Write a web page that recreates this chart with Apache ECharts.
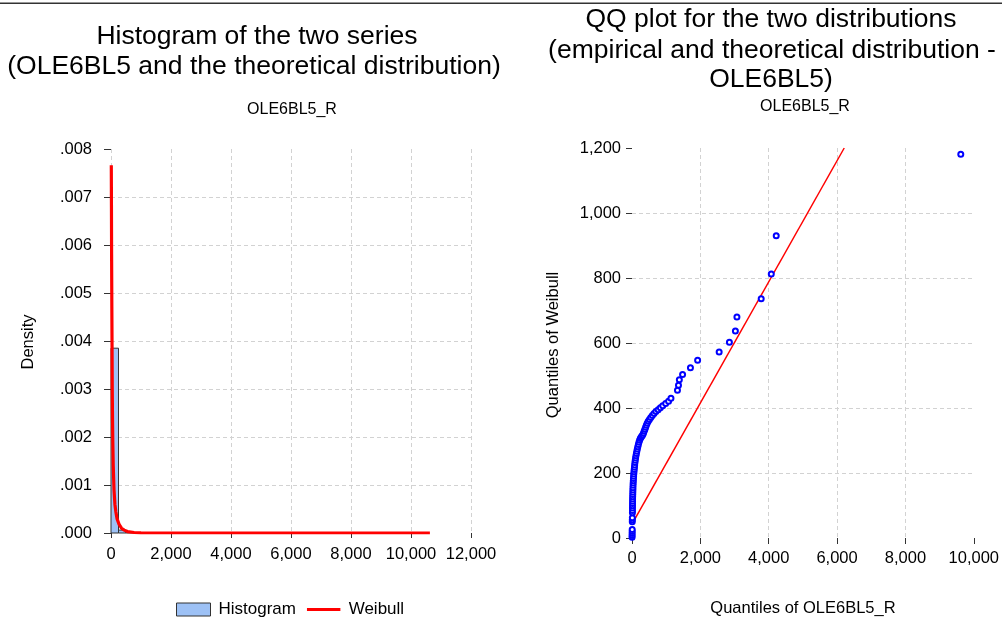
<!DOCTYPE html>
<html><head><meta charset="utf-8">
<script src="https://cdn.jsdelivr.net/npm/echarts@6/dist/echarts.min.js"></script>
<style>html,body{margin:0;padding:0;background:#fff}#c{width:1002px;height:617px}</style>
</head><body><div id="c"></div>
<script>
// ---------- data ----------
const histBinStart = [0, 250, 500, 750];
const histBinWidth = 250;
const histDensity = [0.00385, 0.00006, 0.00002, 0.00001];
const weibullX = [10, 15, 20, 28, 35, 42, 50, 60, 75, 100, 130, 160, 200, 270, 350, 440, 550, 770, 1000, 2000, 5000, 10630];
const weibullY = [0.00766, 0.0068, 0.0058, 0.0047, 0.0039, 0.0030, 0.0024, 0.0019, 0.0014, 0.0009, 0.0006, 0.00045, 0.0003, 0.00018, 0.0001, 0.00006, 0.00003, 0.00001, 0.000004, 0.0000005, 0, 0];
const qqEmpirical = [2,3,4,5,6,8,9,10,12,13,14,15,16,17,18,20,22,24,26,28,31,34,38,42,47,52,58,64,71,78,86,95,105,116,128,141,155,170,186,203,222,243,266,290,315,338,358,378,398,420,445,475,510,550,595,645,700,765,830,900,985,1070,1140,1330,1360,1385,1480,1710,1920,2550,2850,3025,3070,3780,4075,4220,9620];
const qqWeibull = [2,8,14,20,26,50,56,62,78,85,92,99,106,113,120,127,134,141,148,155,162,169,176,183,190,197,204,211,218,225,232,239,246,253,260,267,274,281,288,295,301,306,310,314,318,323,329,335,341,347,353,359,365,371,377,383,389,395,401,407,414,421,430,455,470,487,503,524,547,572,602,637,680,736,812,930,1181];
const qqLineX = [0, 6210];
const qqLineY = [43, 1200];
const leftTitle = ['Histogram of the two series', '(OLE6BL5 and the theoretical distribution)'];
const rightTitle = ['QQ plot for the two distributions', '(empirical and theoretical distribution -', 'OLE6BL5)'];
const subTitle = 'OLE6BL5_R';
// ---------- chart ----------
const FONT = '"Liberation Sans", Arial, sans-serif';
const BAR = '#9dc1f5';
const fmtComma = v => Number(v).toLocaleString('en-US');
const fmtDens = v => v.toFixed(3).replace(/^0/, '');
const gridLine = {lineStyle: {color: '#d2d2d2', type: [4, 3], width: 1}};
const lbl = {color: '#000', fontSize: 16.5, fontFamily: FONT};

function txt(x, y, s, size, rot) {
  return {type: 'text', x: x, y: y, rotation: rot || 0,
    style: {text: s, fill: '#000', fontSize: size, fontFamily: FONT, align: 'center', verticalAlign: 'middle'}};
}
const graphics = [
  {type: 'rect', shape: {x: 0, y: 2.5, width: 1002, height: 1.5}, style: {fill: '#333'}},
  txt(257, 37, leftTitle[0], 26.5), txt(254, 67, leftTitle[1], 26.5),
  txt(771, 20, rightTitle[0], 26.5), txt(772, 51, rightTitle[1], 26.5), txt(771, 80, rightTitle[2], 26.5),
  txt(292, 110, subTitle, 16), txt(805, 107, subTitle, 16),
  txt(28, 342, 'Density', 16.5, Math.PI / 2),
  txt(553, 345, 'Quantiles of Weibull', 16.5, Math.PI / 2),
  txt(803, 608, 'Quantiles of OLE6BL5_R', 16.5)
];
const lineIcon = 'path://M0,5.5 L36,5.5 L36,8.5 L0,8.5 Z M0,0 L0.01,0 L0,0.01 Z M36,14 L35.99,14 L36,13.99 Z';

const chart = echarts.init(document.getElementById('c'), null, {renderer: 'canvas'});
chart.setOption({
  animation: false,
  backgroundColor: '#fff',
  textStyle: {fontFamily: FONT},
  graphic: graphics,
  legend: {
    left: 171, top: 596, itemWidth: 34, itemHeight: 13, itemGap: 11,
    textStyle: {color: '#000', fontSize: 17, fontFamily: FONT, padding: [0, 0, 0, 3]},
    data: [
      {name: 'Histogram', icon: 'rect', itemStyle: {color: BAR, borderColor: '#333', borderWidth: 1}},
      {name: 'Weibull', icon: lineIcon, itemStyle: {color: '#ff0000', borderWidth: 0}}
    ]
  },
  grid: [
    {left: 111, right: 531, top: 149, bottom: 84},
    {left: 632, right: 27, top: 148, bottom: 79}
  ],
  xAxis: [
    {gridIndex: 0, type: 'value', min: 0, max: 12000, interval: 2000, offset: 5,
     axisLine: {show: false}, axisTick: {show: true, length: 5, lineStyle: {color: '#333'}},
     axisLabel: Object.assign({margin: 8, formatter: fmtComma}, lbl),
     splitLine: Object.assign({show: true, showMaxLine: true}, gridLine)},
    {gridIndex: 1, type: 'value', min: 0, max: 10000, interval: 2000, offset: 4,
     axisLine: {show: false}, axisTick: {show: true, length: 6, lineStyle: {color: '#333'}},
     axisLabel: Object.assign({margin: 8, formatter: fmtComma}, lbl),
     splitLine: Object.assign({show: true, showMinLine: false, showMaxLine: false}, gridLine)}
  ],
  yAxis: [
    {gridIndex: 0, type: 'value', min: 0, max: 0.008, interval: 0.001, offset: 6,
     axisLine: {show: false}, axisTick: {show: true, length: 7, lineStyle: {color: '#333'}},
     axisLabel: Object.assign({margin: 13, formatter: fmtDens}, lbl),
     splitLine: Object.assign({show: true, showMinLine: false, showMaxLine: false}, gridLine)},
    {gridIndex: 1, type: 'value', min: 0, max: 1200, interval: 200, offset: 0,
     axisLine: {show: false}, axisTick: {show: true, length: 6, lineStyle: {color: '#333'}},
     axisLabel: Object.assign({margin: 11, formatter: fmtComma}, lbl),
     splitLine: Object.assign({show: true, showMinLine: false, showMaxLine: false}, gridLine)}
  ],
  series: [
    {name: 'Histogram', type: 'custom', xAxisIndex: 0, yAxisIndex: 0,
     data: histBinStart.map((s, i) => [s, s + histBinWidth, histDensity[i]]),
     encode: {x: [0, 1], y: 2},
     renderItem: function (params, api) {
       const p0 = api.coord([api.value(0), api.value(2)]);
       const p1 = api.coord([api.value(1), 0]);
       return {type: 'rect', shape: {x: p0[0], y: p0[1], width: p1[0] - p0[0], height: p1[1] - p0[1]},
         style: {fill: BAR, stroke: '#333', lineWidth: 1}};
     },
     itemStyle: {color: BAR}, z: 2},
    {name: 'Weibull', type: 'line', xAxisIndex: 0, yAxisIndex: 0, symbol: 'none', smooth: false,
     data: weibullX.map((x, i) => [x, weibullY[i]]),
     lineStyle: {color: '#ff0000', width: 3.2}, itemStyle: {color: '#ff0000'}, z: 3},
    {name: 'QQ', type: 'scatter', xAxisIndex: 1, yAxisIndex: 1, symbol: 'emptyCircle', symbolSize: 5,
     data: qqEmpirical.map((x, i) => [x, qqWeibull[i]]),
     itemStyle: {color: '#0000ff', borderColor: '#0000ff', borderWidth: 1.5, opacity: 1}, z: 3},
    {name: 'QQline', type: 'line', xAxisIndex: 1, yAxisIndex: 1, symbol: 'none',
     data: qqLineX.map((x, i) => [x, qqLineY[i]]),
     lineStyle: {color: '#ff0000', width: 1.5}, z: 2}
  ]
});
</script></body></html>
